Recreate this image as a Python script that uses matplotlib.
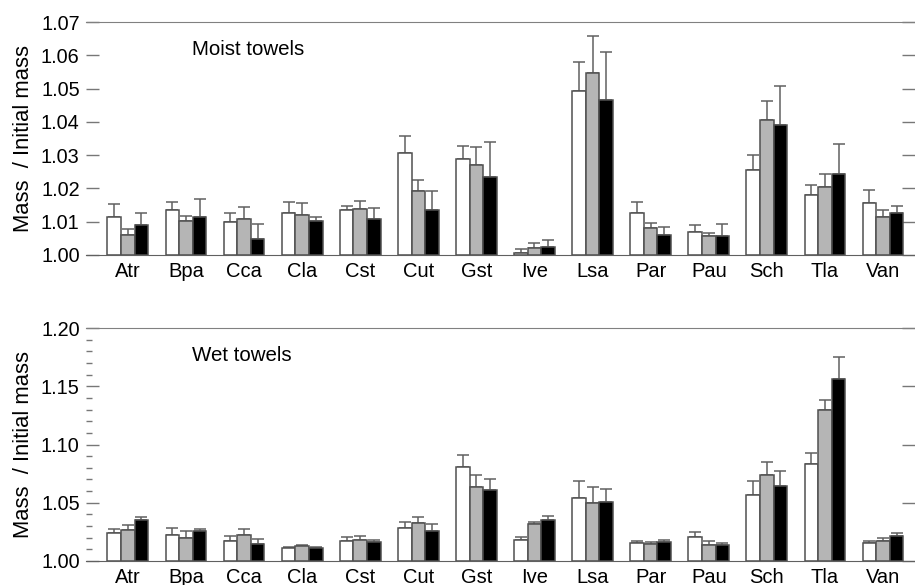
import matplotlib
matplotlib.use("Agg")
import matplotlib.pyplot as plt
import numpy as np

plt.rcParams['font.family'] = ['Liberation Sans', 'DejaVu Sans']

species = ["Atr", "Bpa", "Cca", "Cla", "Cst", "Cut", "Gst", "Ive", "Lsa", "Par", "Pau", "Sch", "Tla", "Van"]

# Moist towels: means and upper error-bar tops for three treatments (white, gray, black)
moist_white = [1.0115, 1.0136, 1.0098, 1.0127, 1.0136, 1.0307, 1.0288, 1.0005, 1.0494, 1.0125, 1.0070, 1.0256, 1.0180, 1.0156]
moist_white_top = [1.0153, 1.0159, 1.0127, 1.0159, 1.0148, 1.0357, 1.0328, 1.0018, 1.0581, 1.0159, 1.0090, 1.0299, 1.0211, 1.0194]
moist_gray = [1.0059, 1.0101, 1.0109, 1.0119, 1.0139, 1.0193, 1.0271, 1.0020, 1.0547, 1.0080, 1.0057, 1.0406, 1.0205, 1.0113]
moist_gray_top = [1.0079, 1.0116, 1.0145, 1.0157, 1.0161, 1.0224, 1.0324, 1.0035, 1.0657, 1.0097, 1.0066, 1.0462, 1.0242, 1.0134]
moist_black = [1.0089, 1.0114, 1.0047, 1.0102, 1.0107, 1.0136, 1.0234, 1.0024, 1.0467, 1.0060, 1.0057, 1.0391, 1.0243, 1.0125]
moist_black_top = [1.0127, 1.0167, 1.0092, 1.0115, 1.0140, 1.0191, 1.0338, 1.0046, 1.0611, 1.0084, 1.0093, 1.0508, 1.0333, 1.0147]

# Wet towels
wet_white = [1.0237, 1.0226, 1.0169, 1.0109, 1.0174, 1.0283, 1.0806, 1.0183, 1.0540, 1.0151, 1.0209, 1.0566, 1.0831, 1.0157]
wet_white_top = [1.0277, 1.0280, 1.0211, 1.0120, 1.0206, 1.0337, 1.0911, 1.0203, 1.0683, 1.0174, 1.0246, 1.0683, 1.0923, 1.0174]
wet_gray = [1.0269, 1.0200, 1.0223, 1.0129, 1.0180, 1.0326, 1.0634, 1.0317, 1.0494, 1.0146, 1.0140, 1.0737, 1.1294, 1.0174]
wet_gray_top = [1.0306, 1.0254, 1.0271, 1.0137, 1.0211, 1.0377, 1.0740, 1.0337, 1.0634, 1.0166, 1.0174, 1.0854, 1.1386, 1.0194]
wet_black = [1.0354, 1.0257, 1.0146, 1.0114, 1.0160, 1.0254, 1.0611, 1.0349, 1.0509, 1.0163, 1.0140, 1.0643, 1.1566, 1.0214]
wet_black_top = [1.0380, 1.0277, 1.0189, 1.0120, 1.0180, 1.0320, 1.0700, 1.0383, 1.0617, 1.0180, 1.0154, 1.0769, 1.1749, 1.0237]

fills = ["white", "#b5b5b5", "black"]

fig = plt.figure(figsize=(9.15, 5.85), dpi=100)
ax1 = fig.add_axes([86/915, 1-255/585, (915-86)/915, 233/585])
ax2 = fig.add_axes([86/915, 1-561/585, (915-86)/915, 233/585])

x = np.arange(len(species))
w = 0.234

def draw(ax, series, tops, ylim, major, minor, title):
    for k, (vals, top) in enumerate(zip(series, tops)):
        vals = np.array(vals)
        top = np.array(top)
        pos = x + (k - 1) * w
        ax.bar(pos, vals - 1.0, bottom=1.0, width=w, color=fills[k],
               edgecolor="#505050", linewidth=1.1, zorder=2)
        err = np.vstack([np.zeros_like(vals), top - vals])
        ax.errorbar(pos, vals, yerr=err, fmt="none", ecolor="#606060",
                    elinewidth=1.1, capsize=4, capthick=1.1, zorder=1)
    ax.set_xlim(-0.72, 13.55)
    ax.set_ylim(*ylim)
    ax.set_yticks(major)
    ax.set_yticklabels([f"{v:.2f}" for v in major])
    if minor is not None:
        ax.set_yticks(minor, minor=True)
    ax.set_xticks(x)
    ax.set_xticklabels(species)
    ax.tick_params(axis="x", length=0, labelsize=14.5, pad=5)
    ax.tick_params(axis="y", which="major", direction="in", length=9.5,
                   width=1, color="#777777", labelsize=14.3, pad=4.5, right=True)
    ax.tick_params(axis="y", which="minor", direction="in", length=4.5,
                   width=1, color="#777777", right=False)
    ax.spines["left"].set_visible(False)
    ax.spines["right"].set_visible(False)
    ax.spines["top"].set_color("#808080")
    ax.spines["bottom"].set_color("#606060")
    ax.set_ylabel("Mass  / Initial mass", fontsize=15.8, labelpad=5)
    ax.text(0.128, 0.88, title, transform=ax.transAxes, fontsize=14.8,
            ha="left", va="center")

draw(ax1, [moist_white, moist_gray, moist_black],
     [moist_white_top, moist_gray_top, moist_black_top],
     (1.0, 1.07), np.round(np.arange(1.0, 1.0701, 0.01), 2), None, "Moist towels")
draw(ax2, [wet_white, wet_gray, wet_black],
     [wet_white_top, wet_gray_top, wet_black_top],
     (1.0, 1.2), np.round(np.arange(1.0, 1.2001, 0.05), 2),
     np.round(np.arange(1.0, 1.2001, 0.01), 2), "Wet towels")

fig.savefig("out.png", dpi=100)
